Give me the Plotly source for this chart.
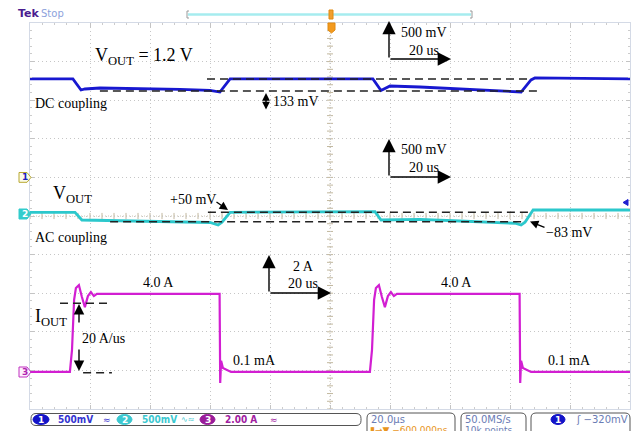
import plotly.graph_objects as go

W, H = 638, 431

# ---------------- data ----------------
# time in microseconds (20 us/div, trigger at centre)
t_ch1 = [-100, -85.7, -83.0, -81.7, -76.7, -60.0, -50.0, -40.0, -36.7, -33.3,
         14.3, 17.0, 20.0, 30.0, 43.3, 56.7, 63.7, 67.0, 68.3, 100]
v_ch1 = [1.275, 1.275, 1.132, 1.145, 1.158, 1.152, 1.139, 1.126, 1.106, 1.275,
         1.275, 1.126, 1.184, 1.171, 1.145, 1.119, 1.106, 1.262, 1.288, 1.275]

t_ch2 = [-100, -85.0, -82.7, -66.7, -50.0, -40.0, -37.3, -36.0, -33.3,
         15.0, 17.0, 30.0, 43.3, 56.0, 62.0, 63.7, 65.0, 67.7, 100]
v_ch2 = [0.048, 0.048, -0.052, -0.065, -0.074, -0.084, -0.117, -0.080, 0.048,
         0.056, -0.052, -0.045, -0.065, -0.084, -0.095, -0.117, -0.080, 0.078, 0.078]

t_ch3 = [-100, -86.7, -86.0, -85.3, -84.7, -83.7, -82.7, -81.7, -80.7, -79.7, -78.7, -77.7,
         -36.8, -36.6, -36.3, -35.7, -33.0,
         13.3, 14.0, 14.7, 15.3, 16.3, 17.3, 18.3, 19.3, 20.3, 21.3, 22.3,
         63.2, 63.4, 63.7, 64.3, 67.0, 100]
i_ch3 = [-0.08, -0.08, 1.06, 3.65, 4.27, 4.42, 3.80, 3.28, 3.85, 4.06, 3.85, 3.96,
         3.96, -0.65, 0.50, 0.12, -0.08,
         -0.08, 1.06, 3.65, 4.27, 4.42, 3.80, 3.28, 3.85, 4.06, 3.85, 3.96,
         3.96, -0.65, 0.50, 0.12, -0.08, -0.08]

# channel settings: volts(amps)/div and zero position in divisions from centre
CH1_SCALE, CH1_POS = 0.5, 1.0
CH2_SCALE, CH2_POS = 0.5, 0.0
CH3_SCALE, CH3_POS = 2.0, -4.0
TIME_RANGE = [-100, 100]

# reference (dashed) levels
ch1_ref_hi, ch1_ref_lo = 1.275, 1.119
ch2_ref_hi, ch2_ref_lo = 0.048, -0.074
ch3_ref_hi, ch3_ref_lo = 3.48, -0.12

# ---------------- geometry helpers ----------------
GX0, GX1, GY0, GY1 = 30, 630, 23, 409


def px(x):
    return x / W


def py(y):
    return 1 - y / H


def rrect(x0, y0, x1, y1, r):
    a, b, c, d = px(x0), py(y0), px(x1), py(y1)
    rx, ry = r / W, r / H
    return (f"M{a+rx},{b} L{c-rx},{b} Q{c},{b} {c},{b-ry} L{c},{d+ry} Q{c},{d} {c-rx},{d} "
            f"L{a+rx},{d} Q{a},{d} {a},{d+ry} L{a},{b-ry} Q{a},{b} {a+rx},{b} Z")


def poly(pts):
    s = "M" + " L".join(f"{px(x)},{py(y)}" for x, y in pts) + " Z"
    return s


fig = go.Figure()

fig.add_trace(go.Scatter(x=t_ch3, y=i_ch3, yaxis="y4", mode="lines",
                         line=dict(color="#d21ed2", width=2.2), hoverinfo="skip"))
fig.add_trace(go.Scatter(x=t_ch2, y=v_ch2, yaxis="y3", mode="lines",
                         line=dict(color="#2cc8cc", width=2.8), hoverinfo="skip"))
fig.add_trace(go.Scatter(x=t_ch1, y=v_ch1, yaxis="y2", mode="lines",
                         line=dict(color="#1818d0", width=2.8), hoverinfo="skip"))

dom_x = [px(GX0), px(GX1)]
dom_y = [py(GY1), py(GY0)]

gridstyle = dict(showgrid=True, gridcolor="#c6c6c6", griddash="1px,3px", gridwidth=1,
                 zeroline=False, showticklabels=False, ticks="inside", ticklen=4,
                 tickcolor="#c4c4c4", showline=True, linecolor="#d4dae6", linewidth=1,
                 mirror="ticks", fixedrange=True)

fig.update_layout(
    width=W, height=H, margin=dict(l=0, r=0, t=0, b=0),
    paper_bgcolor="white", plot_bgcolor="white", showlegend=False,
    xaxis=dict(domain=dom_x, range=TIME_RANGE, dtick=20, tick0=0,
               minor=dict(ticks="inside", dtick=4, ticklen=2, tickcolor="#cccccc"), **gridstyle),
    yaxis=dict(domain=dom_y, range=[-5, 5], dtick=1, tick0=0,
               minor=dict(ticks="inside", dtick=0.2, ticklen=2, tickcolor="#cccccc"), **gridstyle),
    yaxis2=dict(domain=dom_y, overlaying="y", visible=False, fixedrange=True,
                range=[(-5 - CH1_POS) * CH1_SCALE, (5 - CH1_POS) * CH1_SCALE]),
    yaxis3=dict(domain=dom_y, overlaying="y", visible=False, fixedrange=True,
                range=[(-5 - CH2_POS) * CH2_SCALE, (5 - CH2_POS) * CH2_SCALE]),
    yaxis4=dict(domain=dom_y, overlaying="y", visible=False, fixedrange=True,
                range=[(-5 - CH3_POS) * CH3_SCALE, (5 - CH3_POS) * CH3_SCALE]),
)

shapes = []
# centre cross with minor ticks
shapes.append(dict(type="line", xref="x", yref="y", x0=0, x1=0, y0=-5, y1=5, layer="below",
                   line=dict(color="#cfc6b4", width=1, dash="1px,2px")))
shapes.append(dict(type="line", xref="x", yref="y", x0=-100, x1=100, y0=0, y1=0, layer="below",
                   line=dict(color="#cfc6b4", width=1, dash="1px,2px")))
for k in range(-25, 26):
    yv = k * 0.2
    shapes.append(dict(type="line", xref="x", yref="y", x0=-1.0, x1=1.0, y0=yv, y1=yv, layer="below",
                       line=dict(color="#c2b89f", width=1)))
for k in range(-25, 26):
    xv = k * 4
    shapes.append(dict(type="line", xref="x", yref="y", x0=xv, x1=xv, y0=-0.08, y1=0.08, layer="below",
                       line=dict(color="#c2b89f", width=1)))

dash = dict(color="#222222", width=1.5, dash="8px,5px")
# ch1 reference lines
shapes.append(dict(type="line", xref="x", yref="y2", x0=-41, x1=66.7, y0=ch1_ref_hi, y1=ch1_ref_hi, line=dash))
shapes.append(dict(type="line", xref="x", yref="y2", x0=-76.7, x1=69, y0=ch1_ref_lo, y1=ch1_ref_lo, line=dash))
# ch2 reference lines
shapes.append(dict(type="line", xref="x", yref="y3", x0=-40.7, x1=67, y0=ch2_ref_hi, y1=ch2_ref_hi, line=dash))
shapes.append(dict(type="line", xref="x", yref="y3", x0=-73.3, x1=63.7, y0=ch2_ref_lo, y1=ch2_ref_lo, line=dash))
# ch3 slew reference lines
shapes.append(dict(type="line", xref="x", yref="y4", x0=-90, x1=-72.7, y0=ch3_ref_hi, y1=ch3_ref_hi, line=dash))
shapes.append(dict(type="line", xref="x", yref="y4", x0=-82.3, x1=-72.7, y0=ch3_ref_lo, y1=ch3_ref_lo, line=dash))

# channel markers on the left
shapes.append(dict(type="path", xref="paper", yref="paper", fillcolor="#fbfbe8",
                   line=dict(color="#b8a830", width=1),
                   path=poly([(19, 172.5), (27, 172.5), (31, 177.4), (27, 182.3), (19, 182.3)])))
shapes.append(dict(type="path", xref="paper", yref="paper", fillcolor="#33cccc",
                   line=dict(color="#33cccc", width=1),
                   path=poly([(19, 209), (27, 209), (31, 214), (27, 219), (19, 219)])))
shapes.append(dict(type="path", xref="paper", yref="paper", fillcolor="#fdf0fd",
                   line=dict(color="#c030c0", width=1),
                   path=poly([(19, 367), (27, 367), (31, 372), (27, 377), (19, 377)])))
# small blue arrow at right edge
shapes.append(dict(type="path", xref="paper", yref="paper", fillcolor="#2020d0",
                   line=dict(color="#2020d0", width=1),
                   path=poly([(623, 202.5), (628, 199.5), (628, 205.5)])))

# top bar: trigger position bar + trigger marker
shapes.append(dict(type="line", xref="paper", yref="paper", x0=px(188), x1=px(471), y0=py(14.5), y1=py(14.5),
                   line=dict(color="#a6ecef", width=2.5)))
shapes.append(dict(type="path", xref="paper", yref="paper", line=dict(color="#9a9a9a", width=1),
                   path=f"M{px(189)},{py(11)} L{px(187)},{py(11)} L{px(187)},{py(18)} L{px(189)},{py(18)}"))
shapes.append(dict(type="path", xref="paper", yref="paper", line=dict(color="#9a9a9a", width=1),
                   path=f"M{px(470)},{py(11)} L{px(472)},{py(11)} L{px(472)},{py(18)} L{px(470)},{py(18)}"))
shapes.append(dict(type="rect", xref="paper", yref="paper", x0=px(329), x1=px(333), y0=py(19), y1=py(10),
                   fillcolor="#f0a030", line=dict(color="#e08a10", width=1)))
shapes.append(dict(type="path", xref="paper", yref="paper", fillcolor="#f39a1e",
                   line=dict(color="#e08a10", width=1),
                   path=poly([(328, 23), (335, 23), (335, 30), (331.5, 33), (328, 30)])))

# status bar boxes
for (x0, y0, x1, y1) in [(31, 413.5, 361, 425.5), (367, 413, 455, 445), (461, 413, 526, 445), (531, 413, 630, 445)]:
    shapes.append(dict(type="path", xref="paper", yref="paper", path=rrect(x0, y0, x1, y1, 5),
                       fillcolor="white", line=dict(color="#555555", width=1)))
for (x0, x1, col) in [(33, 49, "#1414c8"), (117, 132, "#3cc8d0"), (200, 215, "#9a1c9a"), (551, 565, "#1414c8")]:
    shapes.append(dict(type="circle", xref="paper", yref="paper", x0=px(x0), x1=px(x1), y0=py(424.5), y1=py(414.5),
                       fillcolor=col, line=dict(color=col, width=1)))

fig.update_layout(shapes=shapes)

ann = []
SERIF = "Liberation Serif"


def txt(x, y, s, size=14, color="black", family=SERIF, xanchor="left", bold=False):
    ann.append(dict(x=px(x), y=py(y), xref="paper", yref="paper", text=(f"<b>{s}</b>" if bold else s),
                    showarrow=False, xanchor=xanchor, yanchor="middle",
                    font=dict(family=family, size=size, color=color), borderpad=0))


def arrow(tx, ty, sx, sy, both=False, size=1.9):
    ann.append(dict(x=px(tx), y=py(ty), xref="paper", yref="paper", text="", showarrow=True,
                    ax=sx - tx, ay=sy - ty, arrowhead=2, arrowsize=size, arrowwidth=1.4,
                    arrowcolor="black", arrowside=("end+start" if both else "end"),
                    startarrowhead=2, startarrowsize=size, standoff=0, startstandoff=0))


txt(94, 56, "V<sub>OUT</sub> = 1.2 V", size=18)
txt(34, 103, "DC coupling")
txt(272, 102, "133 mV")
arrow(266, 93, 266, 111, both=True, size=1.1)

txt(400, 33, "500 mV")
txt(408, 50, "20 us")
arrow(389, 21, 389, 59)
arrow(451, 59, 389, 59)

txt(400, 149, "500 mV")
txt(408, 167, "20 us")
arrow(389, 139, 389, 177)
arrow(451, 177, 389, 177)

txt(52, 194, "V<sub>OUT</sub>", size=18)
txt(34, 237, "AC coupling")
txt(169, 199, "+50 mV")
arrow(228, 210, 215, 201, size=1.2)
txt(545, 232, "\u221283 mV")
arrow(530, 221.5, 546, 228, size=1.2)

txt(292, 266, "2 A")
txt(287, 283, "20 us")
arrow(269, 255, 269, 293)
arrow(331, 293, 269, 293)

txt(142, 282, "4.0 A")
txt(440, 282, "4.0 A")
txt(34, 317, "I<sub>OUT</sub>", size=18)
txt(81, 338, "20 A/us")
arrow(79, 304, 79, 324, size=1.5)
arrow(79, 371, 79, 348, size=1.5)
txt(232, 360, "0.1 mA")
txt(547, 360, "0.1 mA")

# channel marker labels
txt(25, 177.4, "1", size=9, color="#2020c0", family="DejaVu Sans", xanchor="center", bold=True)
txt(25, 214, "2", size=9, color="white", family="DejaVu Sans", xanchor="center", bold=True)
txt(25, 372, "3", size=9, color="#b020b0", family="DejaVu Sans", xanchor="center", bold=True)

# top-left Tek Stop
txt(17, 14, "Tek", size=11, color="#4a1c90", family="DejaVu Sans", bold=True)
txt(40, 14, "Stop", size=10, color="#8da2dc", family="DejaVu Sans")

# status bar texts
SANS = "DejaVu Sans"
COND = "DejaVu Sans Condensed, DejaVu Sans"
txt(41, 419.5, "1", size=9, color="white", family=SANS, xanchor="center", bold=True)
txt(57, 419.5, "500mV", size=10, color="#3434d0", family=COND, bold=True)
txt(102, 419.5, "\u2248", size=9, color="#3434d0", family=SANS)
txt(124.5, 419.5, "2", size=9, color="white", family=SANS, xanchor="center", bold=True)
txt(141, 419.5, "500mV", size=10, color="#3cc8d0", family=COND, bold=True)
txt(180, 419.5, "\u223f\u2248", size=8, color="#3cc8d0", family=SANS)
txt(207.5, 419.5, "3", size=9, color="white", family=SANS, xanchor="center", bold=True)
txt(224, 419.5, "2.00 A", size=10, color="#a020a0", family=COND, bold=True)
txt(269, 419.5, "\u2248", size=9, color="#a020a0", family=SANS)

txt(370, 419, "20.0\u00b5s", size=10, color="#6a7cb4", family=SANS)
txt(369, 429.5, "\u25ae\u2192\u25bc \u2212600.000ns", size=9, color="#e89420", family=SANS)
txt(464, 419, "50.0MS/s", size=10, color="#6a7cb4", family=SANS)
txt(464, 429.5, "10k points", size=9, color="#6a7cb4", family=SANS)
txt(558, 419.5, "1", size=9, color="white", family=SANS, xanchor="center", bold=True)
txt(575, 419.5, "\u0283 \u2212320mV", size=10, color="#6a7cb4", family=SANS)

fig.update_layout(annotations=ann)

fig.write_html("out.html")
